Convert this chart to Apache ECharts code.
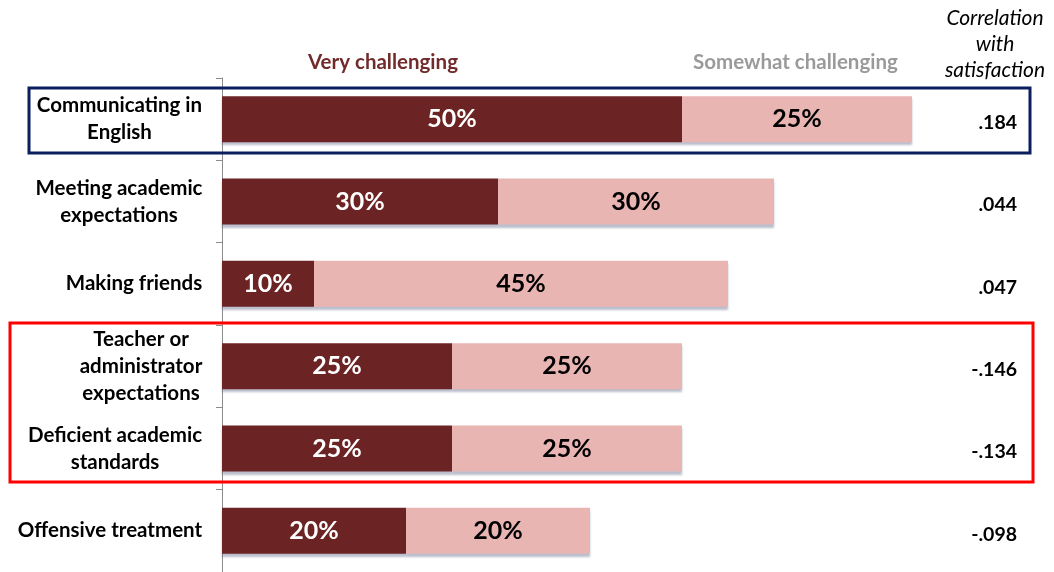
<!DOCTYPE html>
<html>
<head>
<meta charset="utf-8">
<script src="https://cdn.jsdelivr.net/npm/echarts@6/dist/echarts.min.js"></script>
<style>
  html, body { margin: 0; padding: 0; background: #fff; }
  #chart { width: 1054px; height: 572px; }
</style>
</head>
<body>
<div id="chart"></div>
<script>
// Challenges faced, share of respondents by level, with correlation to satisfaction
const categories = [
  'Communicating in\nEnglish',
  'Meeting academic\nexpectations',
  'Making friends',
  'Teacher or\nadministrator\nexpectations',
  'Deficient academic\nstandards',
  'Offensive treatment'
];
const veryChallenging = [50, 30, 10, 25, 25, 20];
const somewhatChallenging = [25, 30, 45, 25, 25, 20];
const correlations = ['.184', '.044', '.047', '-.146', '-.134', '-.098'];

const FONT = 'Lato, "Open Sans", sans-serif';
const LABEL_SIZE = 20.5;

// Measure the widest line of each category label so lines can be centred
// inside a right-aligned block.
const ctx = document.createElement('canvas').getContext('2d');
ctx.font = 'bold ' + LABEL_SIZE + 'px ' + FONT;
const rich = {};
categories.forEach((c, i) => {
  const w = Math.max(...c.split('\n').map(l => ctx.measureText(l).width));
  rich['c' + i] = {
    width: Math.ceil(w) + 1, align: 'center', fontFamily: FONT,
    fontWeight: 'bold', fontSize: LABEL_SIZE, color: '#000', lineHeight: 27
  };
});

const chart = echarts.init(document.getElementById('chart'), null, { renderer: 'canvas' });

chart.setOption({
  animation: false,
  backgroundColor: '#fff',
  legend: [
    {
      data: [{ name: 'Very challenging' }],
      left: 298, top: 47, icon: 'none', itemWidth: 0, itemGap: 0,
      selectedMode: false,
      textStyle: { color: '#722b2b', fontFamily: FONT, fontWeight: 'bold', fontSize: 20.5 }
    },
    {
      data: [{ name: 'Somewhat challenging' }],
      left: 683, top: 47, icon: 'none', itemWidth: 0, itemGap: 0,
      selectedMode: false,
      textStyle: { color: '#9a9a9a', fontFamily: FONT, fontWeight: 'bold', fontSize: 20.5 }
    }
  ],
  graphic: [
    {
      type: 'text', x: 995, y: 5,
      style: {
        text: 'Correlation\nwith\nsatisfaction', textAlign: 'center',
        font: 'italic 21px ' + FONT, lineHeight: 26, fill: '#000'
      }
    },
    {
      type: 'rect', shape: { x: 29, y: 88, width: 1001, height: 65 },
      style: { fill: 'none', stroke: '#0b1f5e', lineWidth: 3 }, z: 10
    },
    {
      type: 'rect', shape: { x: 10, y: 323, width: 1023, height: 159 },
      style: { fill: 'none', stroke: '#ff0000', lineWidth: 3 }, z: 10
    }
  ],
  grid: { left: 222, top: 78, width: 736, height: 498, containLabel: false },
  xAxis: { type: 'value', min: 0, max: 80, show: false },
  yAxis: [
    {
      type: 'category', data: categories, inverse: true,
      axisLine: { show: true, lineStyle: { color: '#8c8c8c', width: 1 } },
      axisTick: { show: true, length: 6, lineStyle: { color: '#8c8c8c' } },
      axisLabel: {
        margin: 19, align: 'right',
        formatter: (v, i) => v.split('\n').map(l => '{c' + i + '|' + l + '}').join('\n'),
        rich: rich
      }
    },
    {
      type: 'category', data: correlations, inverse: true, position: 'right',
      axisLine: { show: false }, axisTick: { show: false },
      axisLabel: {
        margin: 59, align: 'right',
        formatter: v => '{v|' + v + '}',
        rich: {
          v: {
            color: '#000', fontFamily: FONT, fontWeight: 'bold',
            fontSize: 19.5, padding: [7, 0, 0, 0]
          }
        }
      }
    }
  ],
  series: [
    {
      name: 'Very challenging', type: 'bar', stack: 'level', barWidth: 46,
      data: veryChallenging,
      itemStyle: {
        color: '#6b2323', shadowColor: 'rgba(60,70,110,0.35)',
        shadowOffsetY: 3, shadowBlur: 2
      },
      label: {
        show: true, position: 'inside', formatter: '{c}%', color: '#fff',
        fontFamily: FONT, fontWeight: 'bold', fontSize: 25
      }
    },
    {
      name: 'Somewhat challenging', type: 'bar', stack: 'level', barWidth: 46,
      data: somewhatChallenging,
      itemStyle: {
        color: '#e8b5b3', shadowColor: 'rgba(60,70,110,0.35)',
        shadowOffsetY: 3, shadowBlur: 2
      },
      label: {
        show: true, position: 'inside', formatter: '{c}%', color: '#000',
        fontFamily: FONT, fontWeight: 'bold', fontSize: 25
      }
    }
  ]
});
</script>
</body>
</html>
